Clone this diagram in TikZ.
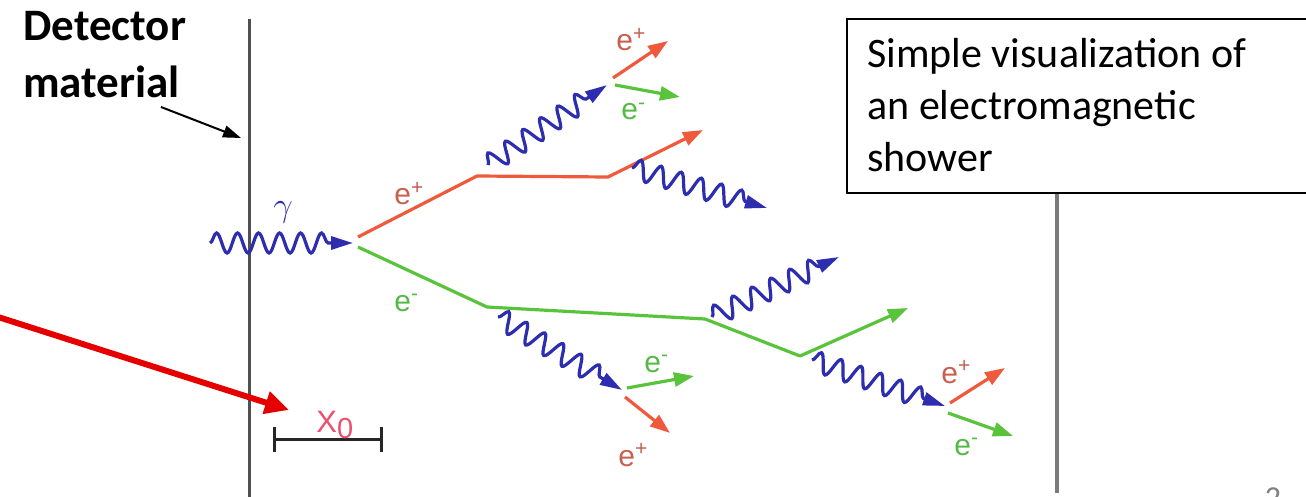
\documentclass[tikz,border=0pt]{standalone}
\usepackage{fontspec}
\setmainfont{Carlito}
\newfontfamily\labfont{Liberation Sans}
\usetikzlibrary{arrows.meta,decorations.pathmorphing}
\definecolor{phblue}{RGB}{45,45,175}
\definecolor{posred}{RGB}{240,90,60}
\definecolor{elgreen}{RGB}{90,195,60}
\definecolor{poslab}{RGB}{200,95,80}
\definecolor{ellab}{RGB}{85,185,70}
\definecolor{xlab}{RGB}{235,80,110}
\definecolor{leftline}{RGB}{80,80,80}
\definecolor{rightline}{RGB}{122,122,122}
\begin{document}
\begin{tikzpicture}[x=0.5pt,y=-0.5pt,
  photon/.style={draw=phblue, line width=1.6pt, decorate,
    decoration={snake, segment length=10.5pt, amplitude=5pt, post length=10pt},
    -{Triangle[length=11pt,width=6.5pt]}},
  posline/.style={draw=posred, line width=1.6pt, line join=round},
  posarr/.style={posline, -{Triangle[length=10pt,width=7pt]}},
  elline/.style={draw=elgreen, line width=1.6pt, line join=round},
  elarr/.style={elline, -{Triangle[length=10pt,width=7pt]}},
  plab/.style={font=\labfont\fontsize{15}{16}\selectfont, text=poslab, inner sep=0pt, anchor=base west},
  elab/.style={font=\labfont\fontsize{15}{16}\selectfont, text=ellab, inner sep=0pt, anchor=base west},
  tick/.style={draw=black!85, line width=1.5pt}
]
\useasboundingbox (0,0) rectangle (1306,497);

% detector boundaries
\coordinate (L1) at (249,19);
\coordinate (L2) at (249,497);
\coordinate (R1) at (1057,193);
\coordinate (R2) at (1057,493);
\draw[leftline, line width=1.5pt] (L1) -- (L2);
\draw[rightline, line width=2pt] (R1) -- (R2);

% text box
\coordinate (B1) at (847,19);
\coordinate (B2) at (1320,193);
\draw[black, line width=1pt] (B1) rectangle (B2);
\node[anchor=base west, align=left, inner sep=0pt, font=\fontsize{21}{26}\selectfont] (boxtext) at (867,172)
  {Simple visualization of\\an electromagnetic\\shower};

% detector material label
\node[anchor=base west, align=left, inner sep=0pt, font=\bfseries\fontsize{22.5}{28.5}\selectfont] (det) at (23,98)
  {Detector\\material};
\coordinate (da1) at (161,107);
\coordinate (da2) at (241,138);
\draw[black, line width=1pt, -{Triangle[length=9pt,width=6pt]}] (da1) -- (da2);

% red pointer arrow
\coordinate (ra1) at (-5,316);
\coordinate (ra2) at (289,410);
\draw[red!90!black, line width=3pt, -{Triangle[length=12pt,width=11pt]}] (ra1) -- (ra2);

% incoming photon
\coordinate (g0) at (210,243);
\coordinate (g1) at (353,243);
\draw[photon] (g0) -- (g1);
\node[text=phblue, font=\fontsize{18}{19}\selectfont, inner sep=0pt] (gam) at (283,212) {$\gamma$};

% positron branch
\coordinate (p0) at (358,237);
\coordinate (a1) at (477,176);
\coordinate (a2) at (608,177);
\coordinate (a3) at (703,130);
\draw[posarr] (p0) -- (a1) -- (a2) -- (a3);
\node[plab] (lp0) at (394,205) {e\textsuperscript{+}};

\coordinate (ph1s) at (488,165);
\coordinate (ph1e) at (607,85);
\draw[photon] (ph1s) -- (ph1e);
\coordinate (t1s) at (613,78);
\coordinate (t1e) at (668,41);
\draw[posarr] (t1s) -- (t1e);
\node[plab] (lt1) at (616,51) {e\textsuperscript{+}};
\coordinate (t2s) at (615,85);
\coordinate (t2e) at (680,97);
\draw[elarr] (t2s) -- (t2e);
\node[elab] (lt2) at (621,120) {e\textsuperscript{-}};

\coordinate (ph2s) at (632,168);
\coordinate (ph2e) at (767,208);
\draw[photon] (ph2s) -- (ph2e);

% electron branch
\coordinate (e0) at (358,247);
\coordinate (b1) at (487,307);
\coordinate (b2) at (705,319);
\coordinate (b3) at (800,356);
\coordinate (b4) at (908,308);
\draw[elarr] (e0) -- (b1) -- (b2) -- (b3) -- (b4);
\node[elab] (le0) at (394,311) {e\textsuperscript{-}};

\coordinate (ph3s) at (498,317);
\coordinate (ph3e) at (622,390);
\draw[photon] (ph3s) -- (ph3e);
\coordinate (u1s) at (627,388);
\coordinate (u1e) at (694,376);
\draw[elarr] (u1s) -- (u1e);
\node[elab] (lu1) at (644,372) {e\textsuperscript{-}};
\coordinate (u2s) at (625,397);
\coordinate (u2e) at (670,433);
\draw[posarr] (u2s) -- (u2e);
\node[plab] (lu2) at (618,466) {e\textsuperscript{+}};

\coordinate (ph4s) at (712,317);
\coordinate (ph4e) at (839,257);
\draw[photon] (ph4s) -- (ph4e);

\coordinate (ph5s) at (812,360);
\coordinate (ph5e) at (945,406);
\draw[photon] (ph5s) -- (ph5e);
\coordinate (w1s) at (950,403);
\coordinate (w1e) at (1005,368);
\draw[posarr] (w1s) -- (w1e);
\node[plab] (lw1) at (941,383) {e\textsuperscript{+}};
\coordinate (w2s) at (948,413);
\coordinate (w2e) at (1013,436);
\draw[elarr] (w2s) -- (w2e);
\node[elab] (lw2) at (954,455) {e\textsuperscript{-}};

% radiation length scale bar
\coordinate (x1t) at (274,427);
\coordinate (x1b) at (274,452);
\coordinate (x2t) at (381,427);
\coordinate (x2b) at (381,452);
\coordinate (x1m) at (274,439);
\coordinate (x2m) at (381,439);
\draw[tick] (x1t) -- (x1b);
\draw[tick] (x2t) -- (x2b);
\draw[tick] (x1m) -- (x2m);
\node[anchor=base west, inner sep=0pt, text=xlab, font=\labfont\fontsize{15.5}{16}\selectfont] (x0) at (316,432)
  {X\raisebox{-0.2em}{\fontsize{14.5}{15}\selectfont 0}};

% page number fragment
\node[anchor=north, inner sep=0pt, text=gray, font=\fontsize{16}{18}\selectfont] (pg) at (1273,487) {2};
\end{tikzpicture}
\end{document}
